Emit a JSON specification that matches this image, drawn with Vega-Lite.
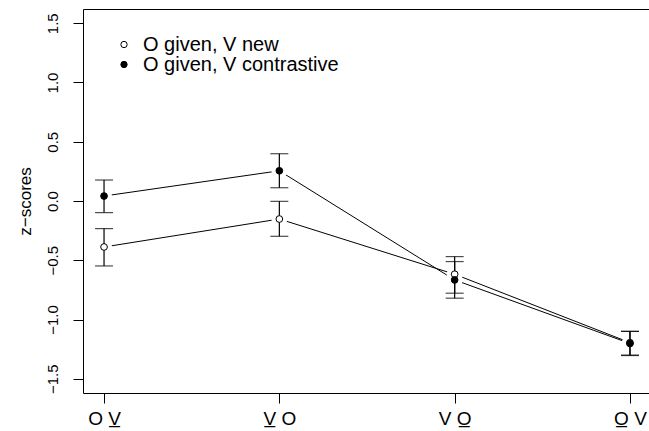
{
  "$schema": "https://vega.github.io/schema/vega-lite/v6.json",
  "width": 568,
  "height": 384,
  "autosize": {"type": "none"},
  "padding": {"left": 83, "top": 9, "right": 0, "bottom": 38},
  "background": "white",
  "config": {
    "font": "Liberation Sans",
    "view": {"stroke": "black", "strokeWidth": 1},
    "axis": {"grid": false, "domain": false, "tickColor": "black", "tickSize": 10, "tickWidth": 1, "labelColor": "black", "titleColor": "black", "titleFontWeight": "normal", "titleFont": "Liberation Sans", "labelFont": "Liberation Sans"},
    "legend": {"orient": "none", "legendX": 31, "legendY": 25.5, "padding": 0, "rowPadding": -2.6, "labelOffset": 9, "labelFontSize": 20, "labelLimit": 500, "labelFont": "Liberation Sans", "labelColor": "black", "symbolType": "circle", "symbolSize": 40, "symbolStrokeColor": "black", "symbolStrokeWidth": 1, "title": null}
  },
  "data": {
    "values": [
      {"cond": "O given, V new", "pos": 1, "mean": -0.388, "lo": -0.548, "hi": -0.233},
      {"cond": "O given, V new", "pos": 2, "mean": -0.152, "lo": -0.298, "hi": -0.003},
      {"cond": "O given, V new", "pos": 3, "mean": -0.618, "lo": -0.778, "hi": -0.469},
      {"cond": "O given, V new", "pos": 4, "mean": -1.195, "lo": -1.300, "hi": -1.100},
      {"cond": "O given, V contrastive", "pos": 1, "mean": 0.042, "lo": -0.098, "hi": 0.177},
      {"cond": "O given, V contrastive", "pos": 2, "mean": 0.255, "lo": 0.112, "hi": 0.399},
      {"cond": "O given, V contrastive", "pos": 3, "mean": -0.666, "lo": -0.820, "hi": -0.511},
      {"cond": "O given, V contrastive", "pos": 4, "mean": -1.202, "lo": -1.304, "hi": -1.100}
    ]
  },
  "encoding": {
    "x": {
      "field": "pos", "type": "quantitative",
      "scale": {"domain": [0.88, 4.12], "nice": false, "zero": false},
      "axis": {"values": [1, 2, 3, 4], "title": null, "labelFontSize": 19, "labelPadding": 6,
        "labelExpr": "datum.value == 1 ? 'O V\u0332' : datum.value == 2 ? 'V\u0332 O' : datum.value == 3 ? 'V O\u0332' : 'O\u0332 V'"}
    },
    "y": {
      "field": "mean", "type": "quantitative",
      "scale": {"domain": [-1.62, 1.62], "nice": false, "zero": false},
      "axis": {"values": [-1.5, -1, -0.5, 0, 0.5, 1, 1.5], "format": ".1f", "labelAngle": -90, "labelAlign": "center", "labelBaseline": "alphabetic", "labelPadding": 16, "labelFontSize": 15, "title": "z\u2212scores", "titleFontSize": 17, "titlePadding": 11}
    }
  },
  "layer": [
    {"mark": {"type": "line", "color": "black", "strokeWidth": 1}, "encoding": {"detail": {"field": "cond"}}},
    {"mark": {"type": "point", "shape": "circle", "filled": true, "color": "white", "opacity": 1, "size": 254}},
    {"mark": {"type": "rule", "color": "black", "strokeWidth": 1.2}, "encoding": {"y": {"field": "lo", "type": "quantitative"}, "y2": {"field": "hi"}}},
    {"mark": {"type": "tick", "orient": "horizontal", "size": 18, "thickness": 1.2, "color": "black"}, "encoding": {"y": {"field": "lo", "type": "quantitative"}}},
    {"mark": {"type": "tick", "orient": "horizontal", "size": 18, "thickness": 1.2, "color": "black"}, "encoding": {"y": {"field": "hi", "type": "quantitative"}}},
    {"mark": {"type": "point", "shape": "circle", "filled": true, "stroke": "black", "strokeWidth": 1, "opacity": 1, "size": 45},
      "encoding": {"fill": {"field": "cond", "type": "nominal", "scale": {"domain": ["O given, V new", "O given, V contrastive"], "range": ["white", "black"]}}}}
  ]
}
